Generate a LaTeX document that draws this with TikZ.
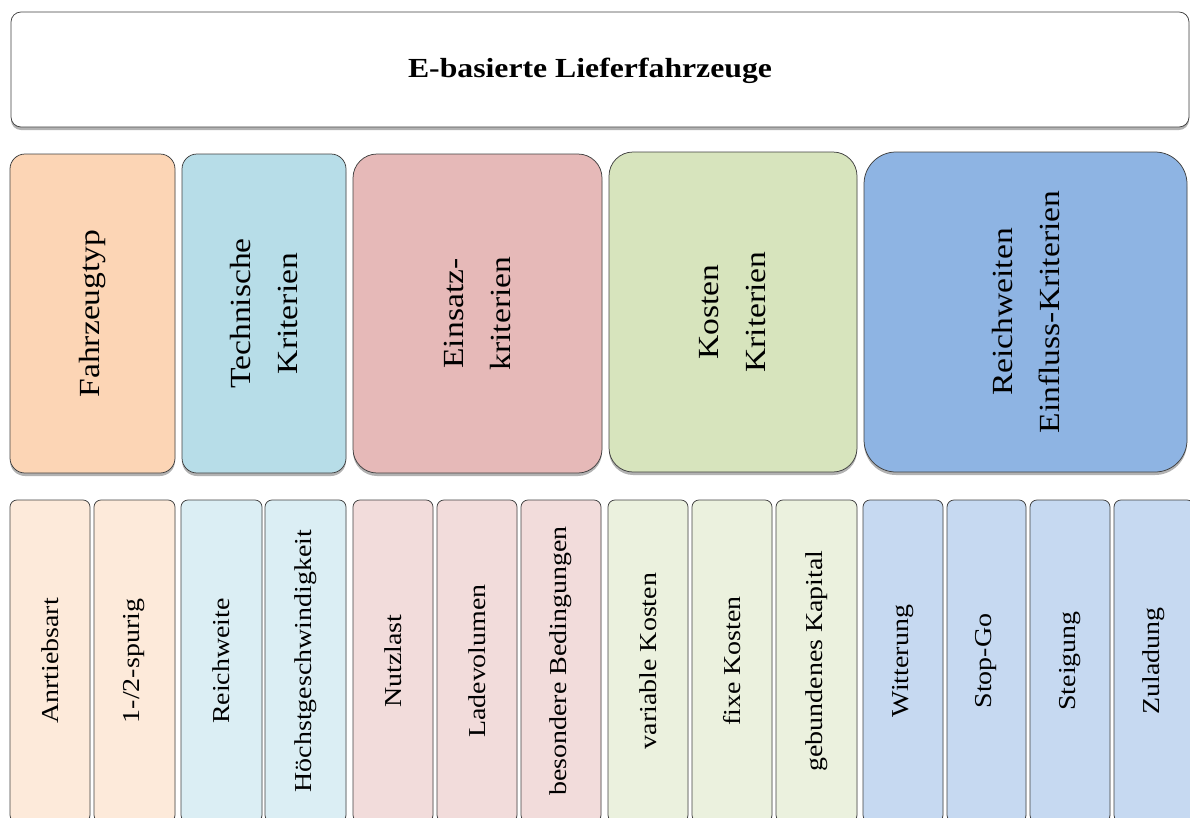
\documentclass[tikz,border=0pt]{standalone}
\usepackage{fontspec}
\setmainfont{Liberation Serif}[FakeStretch=1.15]
\usetikzlibrary{shadows}

\definecolor{peach}{HTML}{FCD5B5}
\definecolor{peachL}{HTML}{FDEADA}
\definecolor{aqua}{HTML}{B7DDE8}
\definecolor{aquaL}{HTML}{DBEEF4}
\definecolor{rose}{HTML}{E6B9B8}
\definecolor{roseL}{HTML}{F2DCDB}
\definecolor{olive}{HTML}{D7E4BD}
\definecolor{oliveL}{HTML}{EBF1DE}
\definecolor{sky}{HTML}{8EB4E3}
\definecolor{skyL}{HTML}{C6D9F1}

% \cell{name}{left}{right}{top}{bottom}{corner radius}{fill}{text style}{text}
\newcommand\cell[9]{%
  \node[frame, fill=#7, rounded corners=#6pt,
        minimum width={#3pt-#2pt}, minimum height={#5pt-#4pt}]
        (#1) at ({(#2+#3)/2},{(#4+#5)/2}) {};
  \node[#8] (#1t) at (#1.center) {#9};}

\begin{document}
\begin{tikzpicture}[x=1pt, y=-1pt,
  frame/.style={draw=black!75, line width=0.75pt, inner sep=0pt, outer sep=0pt,
    drop shadow={shadow xshift=0pt, shadow yshift=-3pt, fill=black, opacity=0.3}},
  headtext/.style={font=\bfseries\fontsize{27.6}{33}\selectfont},
  grouptext/.style={rotate=90, align=center, font=\fontsize{29.2}{47}\selectfont},
  itemtext/.style={rotate=90, font=\fontsize{24.3}{29}\selectfont}]
\useasboundingbox (0,0) rectangle (1190,817);
\clip (0,0) rectangle (1190,817);

% title bar
\node[frame, fill=white, rounded corners=10pt, minimum width=1178pt, minimum height=115pt]
  (top) at (600,69.5) {};
\node[headtext] (title) at (590,71) {E-basierte Lieferfahrzeuge};

% category row
\cell{g1}{10}{175}{154}{473}{15}{peach}{grouptext}{Fahrzeugtyp}
\cell{g2}{182}{346}{154}{473}{15}{aqua}{grouptext}{Technische\\Kriterien}
\cell{g3}{353}{602}{154}{473}{24}{rose}{grouptext}{Einsatz-\\kriterien}
\cell{g4}{609}{857}{152}{472}{24}{olive}{grouptext}{Kosten\\Kriterien}
\cell{g5}{864}{1187}{152}{472}{32}{sky}{grouptext}{Reichweiten\\Einfluss-Kriterien}

% criteria row
\cell{c1}{10}{90}{500}{822}{7}{peachL}{itemtext}{Anrtiebsart}
\cell{c2}{94}{175}{500}{822}{7}{peachL}{itemtext}{1-/2-spurig}
\cell{c3}{181}{262}{500}{822}{7}{aquaL}{itemtext}{Reichweite}
\cell{c4}{265}{346}{500}{822}{7}{aquaL}{itemtext}{Höchstgeschwindigkeit}
\cell{c5}{353}{433}{500}{822}{7}{roseL}{itemtext}{Nutzlast}
\cell{c6}{437}{517}{500}{822}{7}{roseL}{itemtext}{Ladevolumen}
\cell{c7}{521}{601}{500}{822}{7}{roseL}{itemtext}{besondere Bedingungen}
\cell{c8}{608}{688}{500}{822}{7}{oliveL}{itemtext}{variable Kosten}
\cell{c9}{692}{772}{500}{822}{7}{oliveL}{itemtext}{fixe Kosten}
\cell{c10}{776}{857}{500}{822}{7}{oliveL}{itemtext}{gebundenes Kapital}
\cell{c11}{863}{943}{500}{822}{7}{skyL}{itemtext}{Witterung}
\cell{c12}{947}{1026}{500}{822}{7}{skyL}{itemtext}{Stop-Go}
\cell{c13}{1030}{1110}{500}{822}{7}{skyL}{itemtext}{Steigung}
\cell{c14}{1114}{1194}{500}{822}{7}{skyL}{itemtext}{Zuladung}
\end{tikzpicture}
\end{document}
